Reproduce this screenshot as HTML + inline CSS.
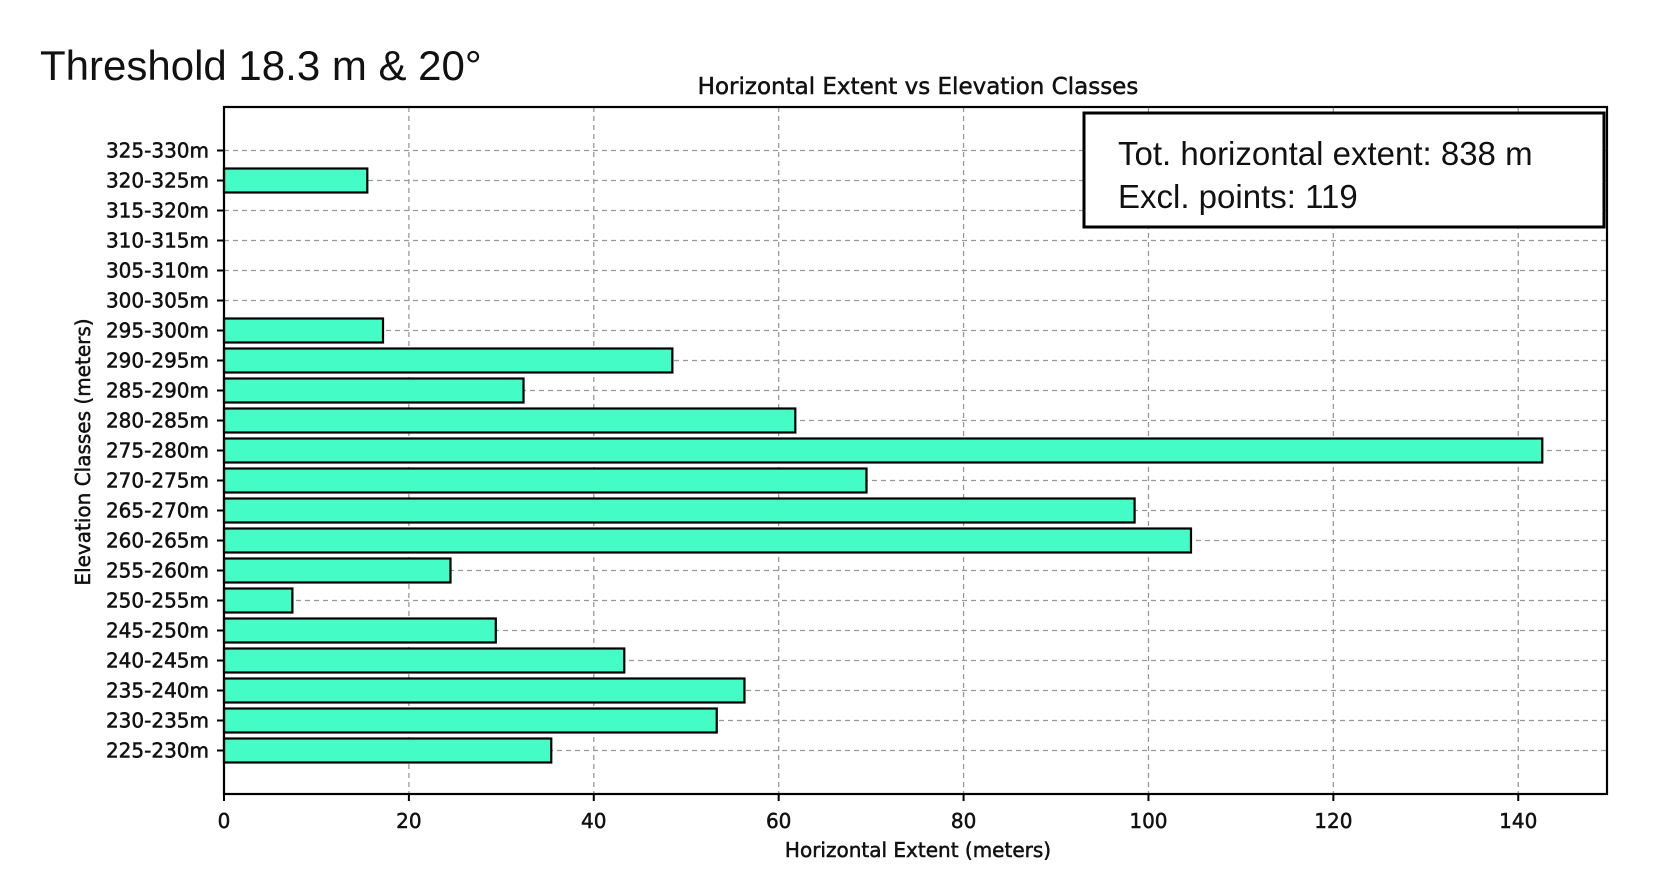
<!DOCTYPE html>
<html><head><meta charset="utf-8">
<style>
html,body{margin:0;padding:0;background:#fff;}
svg{display:block;}
text{font-family:"DejaVu Sans","Liberation Sans",sans-serif;fill:#111;}
.semi{stroke:#111;stroke-width:0.5px;}
</style></head>
<body>
<svg id="chart" width="1664" height="892" viewBox="0 0 1664 892" xmlns="http://www.w3.org/2000/svg">
  <text x="40" y="80" font-size="42" style="font-family:'Liberation Sans',sans-serif">Threshold 18.3 m &amp; 20°</text>
  <text class="semi" x="918" y="94" font-size="23" text-anchor="middle">Horizontal Extent vs Elevation Classes</text>
  <g id="grid"></g>
  <g id="bars"></g>
  <g id="axes"></g>
  <g>
    <rect x="1084" y="113" width="520" height="114" fill="#fff" stroke="#000" stroke-width="3"/>
    <text x="1118" y="165" font-size="33" style="font-family:'Liberation Sans',sans-serif">Tot. horizontal extent: 838 m</text>
    <text x="1118" y="208" font-size="33" style="font-family:'Liberation Sans',sans-serif">Excl. points: 119</text>
  </g>
  <text class="semi" x="918" y="857" font-size="20" text-anchor="middle">Horizontal Extent (meters)</text>
  <text class="semi" transform="translate(90,452) rotate(-90)" font-size="20" text-anchor="middle">Elevation Classes (meters)</text>
</svg>
<script>
const categories = ["225-230m","230-235m","235-240m","240-245m","245-250m","250-255m","255-260m","260-265m","265-270m","270-275m","275-280m","280-285m","285-290m","290-295m","295-300m","300-305m","305-310m","310-315m","315-320m","320-325m","325-330m"];
const values = [35.4,53.3,56.3,43.3,29.4,7.4,24.5,104.6,98.5,69.5,142.6,61.8,32.4,48.5,17.2,0,0,0,0,15.5,0];
const xTicks = [0,20,40,60,80,100,120,140];

const L=224,R=1607,T=107,B=794,XMAX=149.6;
const yMin=-1.45,yMax=21.45;
const xs=v=>L+(R-L)*v/XMAX;
const ys=i=>B-(B-T)*(i-yMin)/(yMax-yMin);
const NS="http://www.w3.org/2000/svg";
function mk(tag,attrs,parent){const e=document.createElementNS(NS,tag);for(const k in attrs)e.setAttribute(k,attrs[k]);parent.appendChild(e);return e;}
const grid=document.getElementById('grid'),bars=document.getElementById('bars'),axes=document.getElementById('axes');

xTicks.forEach(t=>{
  const g=mk('line',{x1:xs(t),x2:xs(t),y1:T,y2:B,stroke:'#999','stroke-width':1.3,'stroke-dasharray':'5,4'},grid);
  
  
  const tk=mk('line',{x1:xs(t),x2:xs(t),y1:B,y2:B+7,stroke:'#000','stroke-width':2},axes);
  
  
  const tx=mk('text',{x:xs(t),y:B+34,'font-size':20,'text-anchor':'middle','class':'semi'},axes);
  tx.textContent=t;
  
  
});
categories.forEach((c,i)=>{
  const y=ys(i);
  const g=mk('line',{x1:L,x2:R,y1:y,y2:y,stroke:'#999','stroke-width':1.3,'stroke-dasharray':'5,4'},grid);
  
  
  const tk=mk('line',{x1:L-7,x2:L,y1:y,y2:y,stroke:'#000','stroke-width':2},axes);
  
  
  const tx=mk('text',{x:L-15,y:y+7,'font-size':20,'text-anchor':'end','class':'semi'},axes);
  tx.textContent=c;
  
  
  const h=0.8*(B-T)/(yMax-yMin);
  if(values[i]>0){
    const b=mk('rect',{x:L,y:y-h/2,width:xs(values[i])-L,height:h,fill:'#44fcc6',stroke:'#000','stroke-width':2.2},bars);
    
    
  }
});
const fr=mk('rect',{x:L,y:T,width:R-L,height:B-T,fill:'none',stroke:'#000','stroke-width':2.2},axes);


</script>
</body></html>
